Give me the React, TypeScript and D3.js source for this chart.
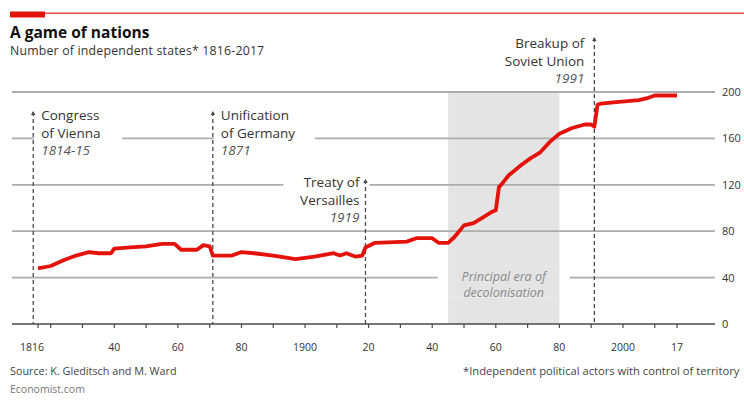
import React from "react";
import * as d3 from "d3";

// Number of independent states, read as (year, count) pairs
const years = [
  1816, 1820, 1824, 1828, 1832, 1835, 1839, 1840, 1845, 1850, 1855, 1859, 1861, 1866, 1868, 1870,
  1871, 1877, 1880, 1884, 1890, 1897, 1903, 1909, 1911, 1913, 1916, 1918, 1919, 1922, 1932, 1935,
  1940, 1942, 1945, 1947, 1950, 1953, 1956, 1959, 1960, 1961, 1962, 1964, 1968, 1971, 1974, 1977,
  1980, 1984, 1988, 1990, 1991, 1992, 1993, 1997, 2005, 2008, 2010, 2017,
];
const states = [
  48, 50, 55, 59, 62, 61, 61, 65, 66, 67, 69, 69, 64, 64, 68, 67,
  59, 59, 62, 61, 59, 56, 58, 61, 59, 61, 58, 59, 66, 70, 71, 74,
  74, 70, 70, 75, 85, 87, 92, 97, 98, 118, 121, 128, 137, 143, 148, 157,
  164, 169, 172, 172, 170, 189, 190, 191, 193, 195, 197, 197,
];

const yTicks = [0, 40, 80, 120, 160, 200];
const xTickYears = [1816, 1820, 1830, 1840, 1850, 1860, 1870, 1880, 1890, 1900, 1910, 1920, 1930, 1940, 1950, 1960, 1970, 1980, 1990, 2000, 2010, 2017];
const xLabelYears = [1816, 1840, 1860, 1880, 1900, 1920, 1940, 1960, 1980, 2000, 2017];
const xLabels = ["1816", "40", "60", "80", "1900", "20", "40", "60", "80", "2000", "17"];

const decolonisation = [1945, 1980];
const decolonisationText = ["Principal era of", "decolonisation"];

const eventYears = [1814.5, 1871, 1919, 1991];
const eventTitles = [
  ["Congress", "of Vienna"],
  ["Unification", "of Germany"],
  ["Treaty of", "Versailles"],
  ["Breakup of", "Soviet Union"],
];
const eventDates = ["1814-15", "1871", "1919", "1991"];

const RED = "#e3120b";
const GRID = "#adadad";
const DARK = "#4a4a4a";
const BAND = "#e4e4e4";
const FONT = "'Open Sans', sans-serif";

// Label layout for each event marker
const eventLayout = [
  { side: "right", top: 112, base: 120, boxL: 1, boxR: 89 },
  { side: "right", top: 112, base: 120, boxL: 1, boxR: 102 },
  { side: "left", top: 180, base: 187, boxL: -82, boxR: 4 },
  { side: "left", top: 38, base: 48, boxL: 0, boxR: 0 },
];

export default function App() {
  const W = 744;
  const H = 400;
  const x = d3.scaleLinear().domain([1816, 2017]).range([38, 677]);
  const y = d3.scaleLinear().domain([0, 200]).range([324, 92]);
  const gridL = 12;
  const gridR = 715;

  const line = d3
    .line<number>()
    .x((_, i) => x(years[i]))
    .y((d) => y(d));

  const lh = 17.5;
  const bandL = x(decolonisation[0]);
  const bandR = x(decolonisation[1]);
  const bandMid = (bandL + bandR) / 2;

  return (
    <svg width={W} height={H} style={{ position: "absolute", left: 0, top: 0, background: "#fff" }}>
      <rect x={0} y={0} width={W} height={H} fill="#fff" />
      {/* top rule */}
      <rect x={10} y={12.6} width={W - 10} height={1.3} fill={RED} opacity={0.85} />
      <rect x={10} y={11.5} width={35} height={6} fill={RED} />

      <text x={10} y={38} fontFamily={FONT} fontWeight={700} fontSize={15.5} fill="#111">
        A game of nations
      </text>
      <text x={10} y={55} fontFamily={FONT} fontSize={12.3} fill="#333" letterSpacing={0.2}>
        Number of independent states* 1816-2017
      </text>

      {/* decolonisation band */}
      <rect x={bandL} y={y(200)} width={bandR - bandL} height={y(0) - y(200)} fill={BAND} />

      {/* gridlines */}
      {yTicks.slice(1).map((t) => (
        <line key={t} x1={gridL} x2={gridR} y1={y(t)} y2={y(t)} stroke={GRID} strokeWidth={1.8} />
      ))}
      {yTicks.map((t) => (
        <text key={"yl" + t} x={722} y={y(t) + 4} fontFamily={FONT} fontSize={11} fill="#333">
          {t}
        </text>
      ))}

      {/* label backings that break the gridlines */}
      {eventLayout.map((l, i) =>
        l.boxR - l.boxL > 0 ? (
          <rect
            key={"bk" + i}
            x={x(eventYears[i]) + l.boxL}
            y={l.base - 12}
            width={l.boxR - l.boxL}
            height={lh * 3 - 2}
            fill="#fff"
          />
        ) : null
      )}
      <rect x={bandMid - 66} y={y(40) - 12} width={132} height={32} fill="#fff" />
      <rect x={bandL} y={y(40) - 12} width={bandR - bandL} height={32} fill={BAND} />
      {decolonisationText.map((s, i) => (
        <text
          key={"dc" + i}
          x={bandMid}
          y={y(40) + 3 + i * 16.5}
          textAnchor="middle"
          fontFamily={FONT}
          fontStyle="italic"
          fontSize={12.5}
          fill="#8a8a8a"
        >
          {s}
        </text>
      ))}

      {/* x axis */}
      <line x1={gridL} x2={gridR} y1={y(0)} y2={y(0)} stroke={DARK} strokeWidth={1.6} />
      {xTickYears.map((yr) => (
        <line key={"t" + yr} x1={x(yr)} x2={x(yr)} y1={y(0)} y2={y(0) + 4} stroke={DARK} strokeWidth={1.2} />
      ))}
      {xLabelYears.map((yr, i) => (
        <text
          key={"xl" + yr}
          x={x(yr) - (i === 0 ? 6 : 0)}
          y={351}
          textAnchor="middle"
          fontFamily={FONT}
          fontSize={10.5}
          fill="#333"
        >
          {xLabels[i]}
        </text>
      ))}

      {/* event markers */}
      {eventYears.map((yr, i) => {
        const l = eventLayout[i];
        const ex = x(yr);
        const tx = l.side === "right" ? ex + 8 : ex - (i === 3 ? 10 : 6);
        const anchor = l.side === "right" ? "start" : "end";
        return (
          <g key={"ev" + i}>
            <line
              x1={ex}
              x2={ex}
              y1={l.top}
              y2={y(0)}
              stroke={DARK}
              strokeWidth={1.3}
              strokeDasharray="4 3"
            />
            <path d={`M${ex - 2.2},${l.top + 3} L${ex},${l.top - 1} L${ex + 2.2},${l.top + 3} Z`} fill={DARK} />
            {eventTitles[i].map((s, j) => (
              <text
                key={j}
                x={tx}
                y={l.base + j * lh}
                textAnchor={anchor}
                fontFamily={FONT}
                fontSize={13.5}
                fill="#333"
              >
                {s}
              </text>
            ))}
            <text
              x={tx}
              y={l.base + 2 * lh}
              textAnchor={anchor}
              fontFamily={FONT}
              fontStyle="italic"
              fontSize={13.5}
              fill="#555"
            >
              {eventDates[i]}
            </text>
          </g>
        );
      })}

      {/* series */}
      <path d={line(states) ?? ""} fill="none" stroke={RED} strokeWidth={3.8} strokeLinejoin="round" />

      {/* footer */}
      <text x={10} y={375} fontFamily={FONT} fontSize={10.8} fill="#444">
        Source: K. Gleditsch and M. Ward
      </text>
      <text x={10} y={393} fontFamily={FONT} fontSize={10.5} fill="#777">
        Economist.com
      </text>
      <text x={463} y={375} fontFamily={FONT} fontSize={11.2} fill="#444">
        *Independent political actors with control of territory
      </text>
    </svg>
  );
}
